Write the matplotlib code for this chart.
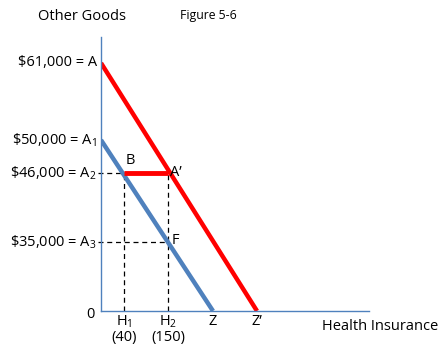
import matplotlib.pyplot as plt

plt.rcParams['font.family'] = ['Open Sans', 'DejaVu Sans']
plt.rcParams['mathtext.fontset'] = 'custom'
plt.rcParams['mathtext.rm'] = 'Open Sans'
plt.rcParams['mathtext.it'] = 'Open Sans'

# schematic positions (the diagram is not to scale)
y_labels = [r"\$61,000 = A", r"\$50,000 = A$_1$", r"\$46,000 = A$_2$", r"\$35,000 = A$_3$"]
y_pos = [248, 171, 138, 69]          # A, A1, A2, A3
x_labels = ["H$_1$", "H$_2$", "Z", "Z\u2019"]
x_values = ["(40)", "(150)", "", ""]
x_pos = [23, 67, 112, 156]           # H1, H2, Z, Z'

A, A1, A2, A3 = y_pos
H1, H2, Z, Zp = x_pos

blue = "#4f81bd"
red = "#ff0000"

fig = plt.figure(figsize=(4.47, 3.52), dpi=100)
ax = fig.add_axes([101 / 447, 41 / 352, 268 / 447, 274 / 352])
ax.set_xlim(0, 268)
ax.set_ylim(0, 274)
for s in ["top", "right"]:
    ax.spines[s].set_visible(False)
for s in ["left", "bottom"]:
    ax.spines[s].set_color(blue)
    ax.spines[s].set_linewidth(1.0)
ax.set_xticks([])
ax.set_yticks([])

# dashed guide lines
dash = dict(color="black", lw=0.9, ls=(0, (4, 3)), clip_on=False)
ax.plot([-3, H2], [A2, A2], **dash)
ax.plot([-3, H2], [A3, A3], **dash)
ax.plot([H1, H1], [0, A2], **dash)
ax.plot([H2, H2], [0, A2], **dash)

# budget lines
ax.plot([0, Z], [A1, 0], color=blue, lw=3.2, solid_capstyle="butt")
ax.plot([0, Zp], [A, 0], color=red, lw=3.2, solid_capstyle="butt")
ax.plot([H1, H2], [A2, A2], color=red, lw=3.5, solid_capstyle="butt")

fs = 10.5
for lab, y in zip(y_labels, y_pos):
    ax.text(-4, y, lab, ha="right", va="center", fontsize=fs, clip_on=False)
for lab, val, x in zip(x_labels, x_values, x_pos):
    ax.text(x, -3, lab, ha="center", va="top", fontsize=fs, clip_on=False)
    if val:
        ax.text(x, -19, val, ha="center", va="top", fontsize=fs, clip_on=False)
ax.text(-6, -3, "0", ha="right", va="center", fontsize=fs, clip_on=False)

ax.text(H1 + 2, A2 + 5, "B", ha="left", va="bottom", fontsize=fs)
ax.text(H2 + 2, A2 + 1, "A\u2019", ha="left", va="center", fontsize=fs)
ax.text(H2 + 4, A3 + 2, "F", ha="left", va="center", fontsize=fs)

fig.text(38 / 447, 1 - 16 / 352, "Other Goods", ha="left", va="center", fontsize=fs)
fig.text(180 / 447, 1 - 16 / 352, "Figure 5-6", ha="left", va="center", fontsize=8.8)
fig.text(322 / 447, 1 - 327 / 352, "Health Insurance", ha="left", va="center", fontsize=fs)

fig.savefig("out.png", dpi=100)
